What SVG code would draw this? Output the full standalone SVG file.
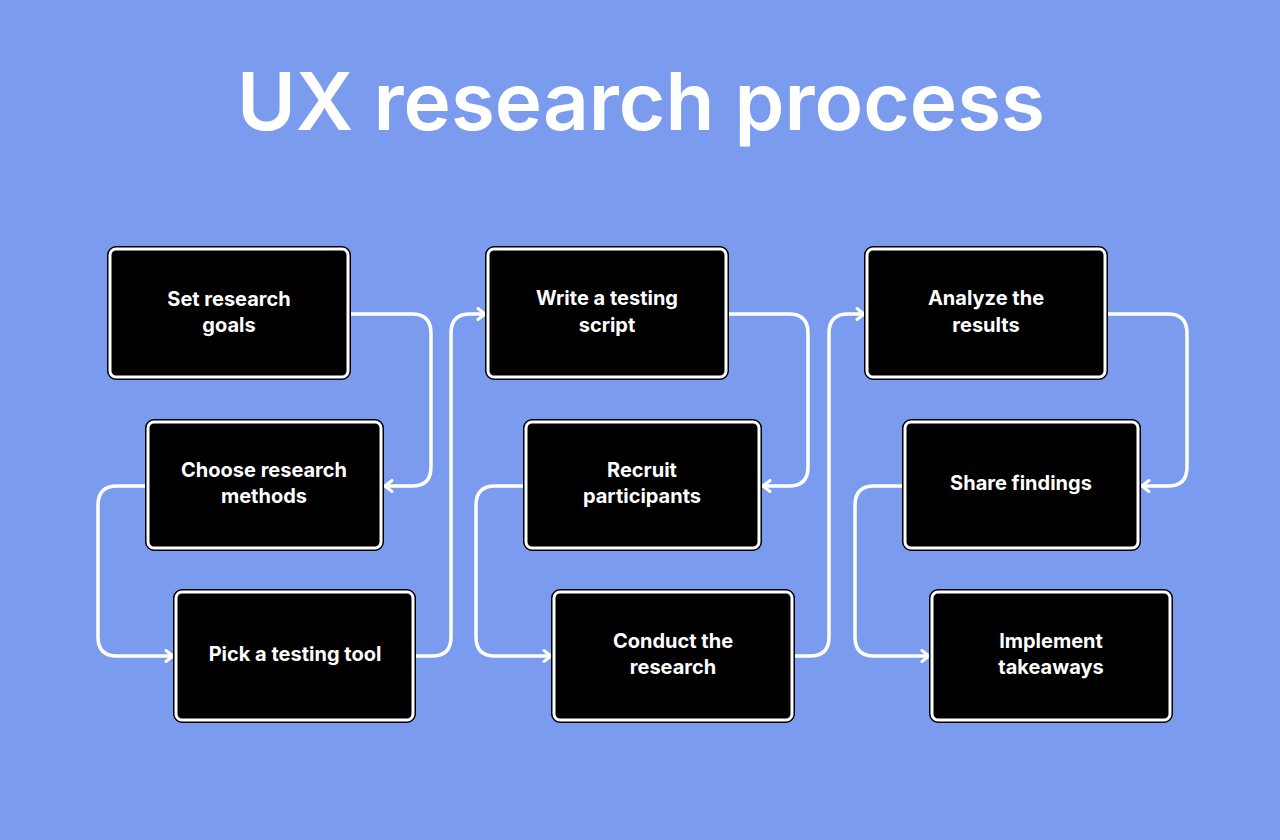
<svg xmlns="http://www.w3.org/2000/svg" width="1280" height="840" viewBox="0 0 1280 840">
<style>
.box{fill:#000;stroke:#fff;stroke-width:3}
.edge{fill:#000;stroke:#000;stroke-width:6}
.lbl{fill:#fff;font-family:Inter,"Open Sans",sans-serif;font-weight:700;font-size:20px;text-anchor:middle}
.con{fill:none;stroke:#fff;stroke-width:3.5;stroke-linecap:round;stroke-linejoin:round}
.title{fill:#fff;font-family:Inter,"Open Sans",sans-serif;font-weight:600;font-size:80px;text-anchor:middle}
</style>
<defs>
<marker id="arr" viewBox="0 0 14 14" refX="12" refY="7" markerWidth="14" markerHeight="14" markerUnits="userSpaceOnUse" orient="auto">
<path d="M5,1.5 L12,7 L5,12.5" fill="none" stroke="#fff" stroke-width="3" stroke-linecap="round" stroke-linejoin="round"/>
</marker>
</defs>
<rect width="1280" height="840" fill="#7B9CEE"/>
<text class="title" x="641" y="130">UX research process</text>
<g id="connectors">
<path class="con" marker-end="url(#arr)" d="M350,314 H412 Q431,314 431,333 V467 Q431,486 412,486 H385"/>
<path class="con" marker-end="url(#arr)" d="M146,486 H117 Q98,486 98,505 V637 Q98,656 117,656 H173"/>
<path class="con" marker-end="url(#arr)" d="M415,656 H432 Q451,656 451,637 V333 Q451,314 470,314 H485"/>
<path class="con" marker-end="url(#arr)" d="M728,314 H789 Q808,314 808,333 V467 Q808,486 789,486 H763"/>
<path class="con" marker-end="url(#arr)" d="M524,486 H495 Q476,486 476,505 V637 Q476,656 495,656 H551"/>
<path class="con" marker-end="url(#arr)" d="M794,656 H810 Q829,656 829,637 V333 Q829,314 848,314 H864"/>
<path class="con" marker-end="url(#arr)" d="M1107,314 H1168 Q1187,314 1187,333 V467 Q1187,486 1168,486 H1142"/>
<path class="con" marker-end="url(#arr)" d="M903,486 H874 Q855,486 855,505 V637 Q855,656 874,656 H929"/>
</g>
<g id="n1"><rect class="edge" x="110" y="249" width="238" height="128" rx="6"/><rect class="box" x="110" y="249" width="238" height="128" rx="6"/><text class="lbl" x="229" y="306">Set research</text><text class="lbl" x="229" y="332">goals</text></g>
<g id="n2"><rect class="edge" x="148" y="422" width="233" height="126" rx="6"/><rect class="box" x="148" y="422" width="233" height="126" rx="6"/><text class="lbl" x="264" y="477">Choose research</text><text class="lbl" x="264" y="503">methods</text></g>
<g id="n3"><rect class="edge" x="176" y="592" width="237" height="128" rx="6"/><rect class="box" x="176" y="592" width="237" height="128" rx="6"/><text class="lbl" x="295" y="661">Pick a testing tool</text></g>
<g id="n4"><rect class="edge" x="488" y="249" width="238" height="128" rx="6"/><rect class="box" x="488" y="249" width="238" height="128" rx="6"/><text class="lbl" x="607" y="305">Write a testing</text><text class="lbl" x="607" y="332">script</text></g>
<g id="n5"><rect class="edge" x="526" y="422" width="233" height="126" rx="6"/><rect class="box" x="526" y="422" width="233" height="126" rx="6"/><text class="lbl" x="642" y="477">Recruit</text><text class="lbl" x="642" y="503">participants</text></g>
<g id="n6"><rect class="edge" x="554" y="592" width="238" height="128" rx="6"/><rect class="box" x="554" y="592" width="238" height="128" rx="6"/><text class="lbl" x="673" y="648">Conduct the</text><text class="lbl" x="673" y="674">research</text></g>
<g id="n7"><rect class="edge" x="867" y="249" width="238" height="128" rx="6"/><rect class="box" x="867" y="249" width="238" height="128" rx="6"/><text class="lbl" x="986" y="305">Analyze the</text><text class="lbl" x="986" y="332">results</text></g>
<g id="n8"><rect class="edge" x="905" y="422" width="233" height="126" rx="6"/><rect class="box" x="905" y="422" width="233" height="126" rx="6"/><text class="lbl" x="1021" y="490">Share findings</text></g>
<g id="n9"><rect class="edge" x="932" y="592" width="238" height="128" rx="6"/><rect class="box" x="932" y="592" width="238" height="128" rx="6"/><text class="lbl" x="1051" y="648">Implement</text><text class="lbl" x="1051" y="674">takeaways</text></g>
</svg>
